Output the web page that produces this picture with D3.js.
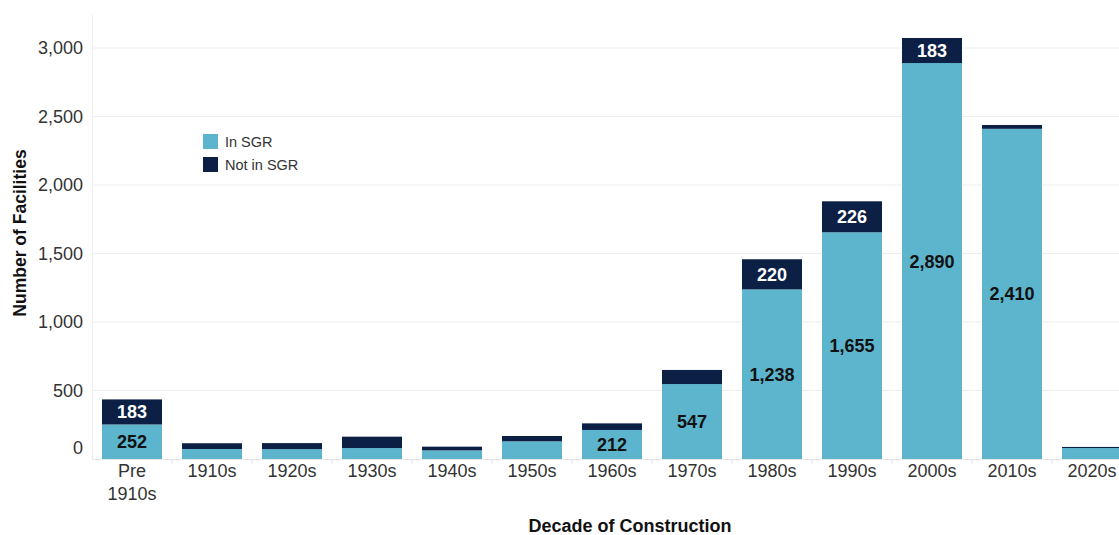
<!DOCTYPE html>
<html><head><meta charset="utf-8">
<script src="https://cdn.jsdelivr.net/npm/d3@7/dist/d3.min.js"></script>
<style>
html,body{margin:0;padding:0;background:#fff;overflow:hidden;}
svg{display:block;font-family:"Liberation Sans",Arial,sans-serif;}
</style></head><body>
<svg id="chart" width="1119" height="535"></svg>
<script>
const categories = ["Pre 1910s","1910s","1920s","1930s","1940s","1950s","1960s","1970s","1980s","1990s","2000s","2010s","2020s"];
const inSGR    = [252, 73, 72, 80, 63, 129, 212, 547, 1238, 1655, 2890, 2410, 80];
const notInSGR = [183, 42, 44, 83, 27, 39, 48, 103, 220, 226, 183, 28, 8];
const yTicks = [0, 500, 1000, 1500, 2000, 2500, 3000];
const seriesNames = ["In SGR", "Not in SGR"];
const colors = ["#5db5cd", "#0c1f45"];

const svg = d3.select("#chart");
const x = d3.scaleBand().domain(categories).range([92, 1132]).paddingInner(0.25).paddingOuter(0.125);
const y = d3.scaleLinear().domain([0, 3000]).range([459, 48]);

// gridlines
svg.append("g").selectAll("line").data(yTicks.filter(d => d > 0)).join("line")
  .attr("x1", 92).attr("x2", 1119).attr("y1", d => y(d)).attr("y2", d => y(d))
  .attr("stroke", "#eeeeee").attr("stroke-width", 1);
// y axis line
svg.append("line").attr("x1", 92.5).attr("x2", 92.5).attr("y1", 15).attr("y2", 459)
  .attr("stroke", "#eeeeee");
// baseline
svg.append("line").attr("x1", 92).attr("x2", 1119).attr("y1", 459.5).attr("y2", 459.5)
  .attr("stroke", "#e6e6e6");

// y axis
const yAxis = d3.axisLeft(y).tickValues(yTicks).tickSize(0).tickPadding(9).tickFormat(d3.format(","));
const yg = svg.append("g").attr("transform", "translate(92,0)").call(yAxis);
yg.select(".domain").remove();
yg.selectAll("text").attr("font-size", 18).attr("fill", "#333").attr("font-family", "Liberation Sans, Arial, sans-serif")
  .attr("dy", d => d === 0 ? "-0.28em" : "0.32em");

// x axis
const xAxis = d3.axisBottom(x).tickSize(0).tickPadding(0);
const xg = svg.append("g").attr("transform", "translate(0,459)").call(xAxis);
xg.select(".domain").remove();
xg.selectAll("text").remove();
xg.selectAll(".tick").each(function(d) {
  const t = d3.select(this).append("text").attr("fill", "#333").attr("font-size", 18)
    .attr("text-anchor", "middle").attr("font-family", "Liberation Sans, Arial, sans-serif");
  const parts = d.split(" ");
  parts.forEach((p, i) => t.append("tspan").attr("x", 0).attr("y", 18 + i * 23).text(p));
});
// x tick marks at band boundaries
const step = x.step();
svg.append("g").selectAll("line").data(categories.slice(1)).join("line")
  .attr("x1", d => x(d) - (step - x.bandwidth()) / 2).attr("x2", d => x(d) - (step - x.bandwidth()) / 2)
  .attr("y1", 459).attr("y2", 464).attr("stroke", "#e0e0e0");

// stacked bars
const data = categories.map((c, i) => ({cat: c, in: inSGR[i], not: notInSGR[i]}));
const stack = d3.stack().keys(["in", "not"])(data);
stack.forEach((layer, li) => {
  svg.append("g").selectAll("rect").data(layer).join("rect")
    .attr("x", d => x(d.data.cat)).attr("width", x.bandwidth())
    .attr("y", d => y(d[1])).attr("height", d => y(d[0]) - y(d[1]))
    .attr("fill", colors[li]);
  svg.append("g").selectAll("text").data(layer.filter(d => y(d[0]) - y(d[1]) >= 20)).join("text")
    .attr("x", d => x(d.data.cat) + x.bandwidth() / 2)
    .attr("y", d => (y(d[0]) + y(d[1])) / 2)
    .attr("dy", "0.36em").attr("text-anchor", "middle")
    .attr("font-size", 18).attr("font-weight", "bold")
    .attr("fill", li === 0 ? "#111" : "#fff")
    .text(d => d3.format(",")(d[1] - d[0]));
});

// legend
const lg = svg.append("g").attr("transform", "translate(203,134)");
seriesNames.forEach((n, i) => {
  lg.append("rect").attr("x", 0).attr("y", i * 23).attr("width", 15).attr("height", 15).attr("fill", colors[i]);
  lg.append("text").attr("x", 22).attr("y", i * 23 + 8).attr("dy", "0.35em")
    .attr("font-size", 14.5).attr("fill", "#333").text(n);
});

// axis titles
svg.append("text").attr("transform", "translate(26,233) rotate(-90)")
  .attr("text-anchor", "middle").attr("font-size", 17.5).attr("font-weight", "bold").attr("fill", "#111")
  .text("Number of Facilities");
svg.append("text").attr("x", 630).attr("y", 532)
  .attr("text-anchor", "middle").attr("font-size", 18).attr("font-weight", "bold").attr("fill", "#111")
  .text("Decade of Construction");
</script>
</body></html>
